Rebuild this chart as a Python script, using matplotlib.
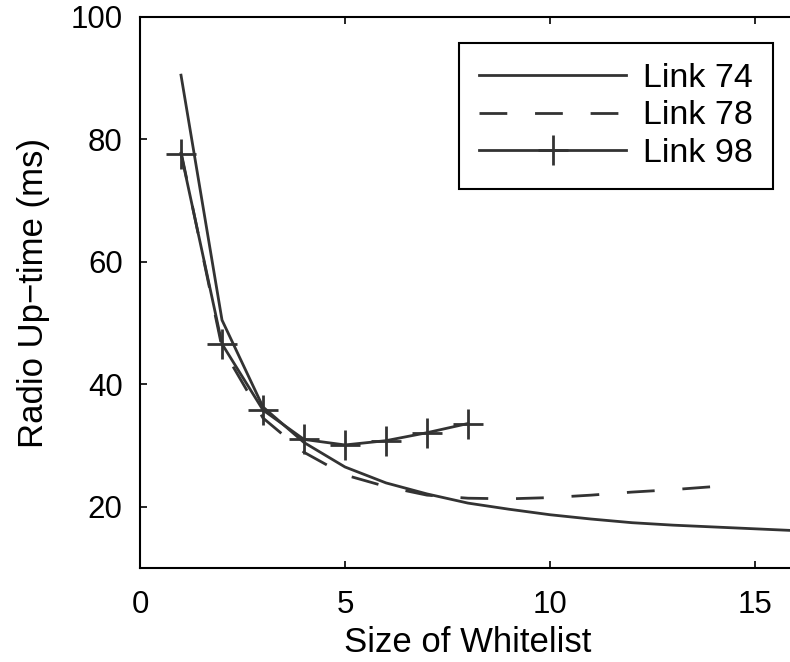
import numpy as np
import matplotlib
matplotlib.use("Agg")
import matplotlib.pyplot as plt

plt.rcParams['font.family'] = ['Liberation Sans', 'DejaVu Sans']

# data
x74 = [1, 2, 3, 4, 5, 6, 7, 8, 9, 10, 11, 12, 13, 14, 15, 16]
y74 = [90.5, 50.5, 36.3, 30.5, 26.5, 23.9, 22.1, 20.6, 19.6, 18.7, 18.0, 17.4, 17.0, 16.7, 16.4, 16.1]

x78 = [1, 2, 3, 4, 5, 6, 7, 8, 9, 10, 11, 12, 13, 14]
y78 = [78.0, 46.0, 34.5, 28.9, 25.2, 23.3, 21.9, 21.4, 21.3, 21.5, 21.9, 22.4, 22.8, 23.3]

x98 = [1, 2, 3, 4, 5, 6, 7, 8]
y98 = [77.7, 46.6, 35.8, 31.0, 30.1, 30.8, 32.1, 33.6]

labels = ['Link 74', 'Link 78', 'Link 98']
xticks = [0, 5, 10, 15]
yticks = [20, 40, 60, 80, 100]

col = '#333333'
fig = plt.figure(figsize=(7.9, 6.62), dpi=100)
W, H = 790, 662
# axes box in pixels: left 140, top 17, bottom 568, right edge cut off by the figure
ax = fig.add_axes([140 / W, (H - 568) / H, 656 / W, 551 / H])

ax.plot(x74, y74, color=col, lw=2, label=labels[0])
ax.plot(x78, y78, color=col, lw=2, dashes=(10, 10), label=labels[1])
ax.plot(x98, y98, color=col, lw=2, marker='+', markersize=21, markeredgewidth=2,
        label=labels[2])

ax.set_xlim(0, 16)
ax.set_ylim(10, 100)
ax.set_xticks(xticks)
ax.set_yticks(yticks)
ax.tick_params(direction='in', length=5, width=1.2, labelsize=22.5, top=True, right=False,
               colors='black')
ax.tick_params(axis='x', pad=16)
ax.tick_params(axis='y', pad=12.5)
for s in ax.spines.values():
    s.set_linewidth(1.5)

ax.set_xlabel('Size of Whitelist', fontsize=25, labelpad=4)
ax.set_ylabel('Radio Up\u2212time (ms)', fontsize=25, labelpad=15)

leg = ax.legend(loc='upper right', bbox_to_anchor=(0.965, 0.953), borderaxespad=0,
                fontsize=24.5, handlelength=4.3, numpoints=1, fancybox=False,
                edgecolor='black', framealpha=1, labelspacing=0.18, handletextpad=0.5,
                borderpad=0.6)
leg.get_frame().set_linewidth(1.5)

fig.savefig('out.png', dpi=100)
